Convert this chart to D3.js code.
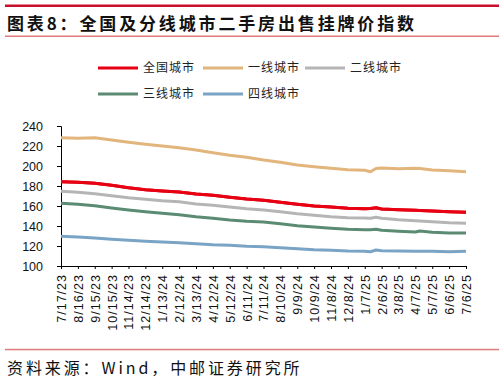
<!DOCTYPE html>
<html><head><meta charset="utf-8">
<script src="https://cdn.jsdelivr.net/npm/d3@7"></script>
<style>body{margin:0;background:#fff}svg{display:block}</style>
</head><body>
<svg id="c" width="504" height="384"></svg>
<script>
const dates = ["2023-07-17","2023-08-16","2023-09-15","2023-10-15","2023-11-14","2023-12-14","2024-01-13","2024-02-12","2024-03-13","2024-04-12","2024-05-12","2024-06-11","2024-07-11","2024-08-10","2024-09-09","2024-10-09","2024-11-08","2024-12-08","2025-01-07","2025-01-17","2025-01-27","2025-02-06","2025-03-08","2025-04-07","2025-04-15","2025-05-07","2025-06-06","2025-07-06"];
const national = [184.3,183.7,182.7,180.7,178.3,176.3,175,174,172,170.7,168.7,167,165.7,163.7,161.7,160,159,157.7,157.3,157.5,158.2,157,156.3,155.7,155.6,155,154.3,153.7];
const tier1 = [228.3,227.7,228.3,226,223.7,221.7,220,218.3,216,213.3,210.7,208.7,206,203.7,201,199.3,197.7,196.3,195.7,194.3,197.5,198,197.3,197.7,197.5,196,195.3,194.3];
const tier2 = [174.7,173.7,172.3,170.3,168.3,166.7,165.3,164.3,162,160.7,159,157.3,156,154.3,152.3,150.7,149.3,148.3,148,147.8,148.8,147.7,146.3,145.3,145.1,144.3,143.3,142.7];
const tier3 = [162.7,161.7,160.3,158,156,154.3,152.7,151.3,149.3,147.7,146,144.7,144,142.3,140.3,139,137.7,136.7,136.3,136.2,136.8,135.7,134.7,134,135,133.7,133,133];
const tier4 = [129.7,129,128,126.7,125.7,124.7,124,123.3,122.3,121.3,120.7,119.7,119.3,118.3,117.3,116.3,115.7,115,114.7,114.3,116,115.3,115,114.7,114.7,114.7,114.3,114.7];
const seriesNames = ["全国城市","一线城市","二线城市","三线城市","四线城市"];
const xTickLabels = ["7/17/23","8/16/23","9/15/23","10/15/23","11/14/23","12/14/23","1/13/24","2/12/24","3/13/24","4/12/24","5/12/24","6/11/24","7/11/24","8/10/24","9/9/24","10/9/24","11/8/24","12/8/24","1/7/25","2/6/25","3/8/25","4/7/25","5/7/25","6/6/25","7/6/25"];
const yTicks = [100,120,140,160,180,200,220,240];
const title = "图表8：全国及分线城市二手房出售挂牌价指数";
const source = "资料来源：Wind，中邮证券研究所";

const colors = ["#e60012","#e2b57c","#b5b5b5","#5b8b73","#7aa4c6"];
const allSeries = [national, tier1, tier2, tier3, tier4];
const parse = d3.timeParse("%Y-%m-%d");
const fmtTick = d => (d.getMonth()+1)+"/"+d.getDate()+"/"+String(d.getFullYear()).slice(2);
const tickDates = xTickLabels.map(s => { const p = s.split("/"); return new Date(2000+ +p[2], +p[0]-1, +p[1]); });

const svg = d3.select("#c");
const CJK = "'Noto Sans CJK SC', sans-serif";

// header
svg.append("rect").attr("x",5).attr("y",4.5).attr("width",494).attr("height",2.5).attr("fill","#c8102e");
svg.append("text").attr("x",7).attr("y",30).attr("font-family",CJK).attr("font-weight","bold")
  .attr("font-size",17).attr("letter-spacing",2.85).attr("fill","#111").text(title);
svg.append("rect").attr("x",5).attr("y",35.5).attr("width",494).attr("height",1.5).attr("fill","#e07a7a");

// footer
svg.append("rect").attr("x",5).attr("y",348.8).attr("width",494).attr("height",1.5).attr("fill","#e07a7a");
svg.append("text").attr("x",7).attr("y",374).attr("font-family",CJK)
  .attr("font-size",16).attr("letter-spacing",2.9).attr("fill","#111").text(source);

// scales
const x = d3.scaleTime().domain([tickDates[0], tickDates[tickDates.length-1]]).range([61,466]);
const y = d3.scaleLinear().domain([100,240]).range([266,126]);

const g = svg.append("g");
// y axis
const ya = g.append("g").attr("transform","translate(61,0)")
  .call(d3.axisLeft(y).tickValues(yTicks).tickSize(4).tickPadding(14));
ya.selectAll("text").attr("font-family","'Liberation Sans', Arial, sans-serif").attr("font-size",12.5).attr("fill","#111");
ya.selectAll("line,path").attr("stroke","#000");
// x axis
const xa = g.append("g").attr("transform","translate(0,266)")
  .call(d3.axisBottom(x).tickValues(tickDates).tickFormat(fmtTick).tickSize(3).tickSizeOuter(0));
xa.selectAll("line,path").attr("stroke","#000");
xa.selectAll("text").attr("font-family","'Liberation Sans', Arial, sans-serif").attr("font-size",12.5).attr("fill","#111")
  .attr("letter-spacing",1)
  .attr("transform","rotate(-90)").attr("text-anchor","end").attr("x",-8).attr("y",0).attr("dy","0.35em");

// lines
const line = d3.line().x((d,i)=>x(parse(dates[i]))).y(d=>y(d));
allSeries.forEach((s,k)=>{
  g.append("path").datum(s).attr("d",line).attr("fill","none")
   .attr("stroke",colors[k]).attr("stroke-width",3).attr("stroke-linejoin","round");
});
g.append("path").datum(national).attr("d",line).attr("fill","none")
  .attr("stroke",colors[0]).attr("stroke-width",3).attr("stroke-linejoin","round");

// legend
const legPos = [[98,68],[203,68],[305,68],[98,94],[203,94]];
seriesNames.forEach((n,k)=>{
  const [lx,ly] = legPos[k];
  svg.append("line").attr("x1",lx).attr("x2",lx+40).attr("y1",ly).attr("y2",ly)
    .attr("stroke",colors[k]).attr("stroke-width",3);
  svg.append("text").attr("x",lx+45).attr("y",ly).attr("dy","0.36em").attr("font-family",CJK)
    .attr("font-size",12).attr("letter-spacing",1).attr("fill","#222").text(n);
});
</script>
</body></html>
